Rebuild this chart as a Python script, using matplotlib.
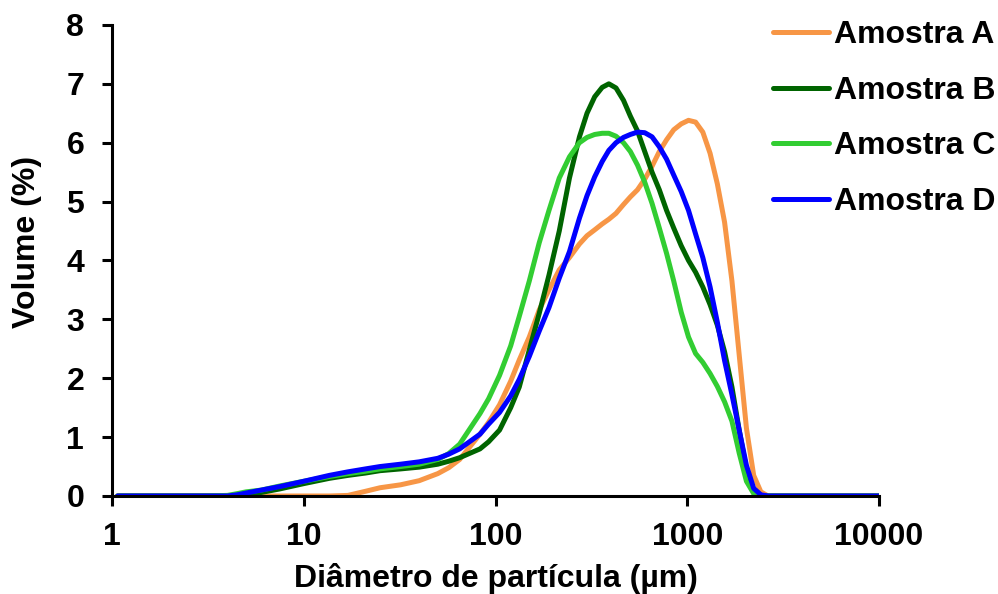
import matplotlib
matplotlib.use("Agg")
import matplotlib.pyplot as plt
from matplotlib.ticker import FixedLocator, FixedFormatter, NullLocator

# particle size (um) and volume (%)
diameter = [1.07, 2, 3, 4, 4.5, 5, 6, 7.5, 10, 13.6,
            17, 21, 25, 32, 40, 50, 57, 65, 83, 92,
            105, 120, 133, 150, 169, 190, 215, 243, 274, 300,
            329, 360, 390, 425, 465, 505, 550, 600, 655, 715,
            780, 850, 930, 1015, 1105, 1205, 1315, 1435, 1565, 1710,
            1865, 2035, 2220, 2420, 2640, 3000, 5000, 10000]

amostra_a = [0, 0, 0, 0, 0, 0, 0, 0, 0, 0,
             0.01, 0.08, 0.14, 0.19, 0.26, 0.38, 0.48, 0.62, 1.05, 1.25,
             1.55, 1.95, 2.31, 2.7, 3.16, 3.5, 3.84, 4.05, 4.28, 4.42,
             4.52, 4.62, 4.70, 4.80, 4.95, 5.08, 5.2, 5.38, 5.6, 5.85,
             6.05, 6.22, 6.32, 6.38, 6.35, 6.18, 5.82, 5.3, 4.65, 3.65,
             2.4, 1.15, 0.35, 0.07, 0, 0, 0, 0]

amostra_b = [0, 0, 0, 0, 0, 0.02, 0.06, 0.12, 0.21, 0.30,
             0.35, 0.39, 0.43, 0.46, 0.49, 0.54, 0.59, 0.65, 0.80, 0.92,
             1.12, 1.5, 1.85, 2.48, 3.1, 3.75, 4.5, 5.4, 6.1, 6.5,
             6.78, 6.94, 7.0, 6.93, 6.72, 6.45, 6.2, 5.85, 5.5, 5.2,
             4.85, 4.55, 4.25, 4.0, 3.8, 3.55, 3.25, 2.9, 2.45, 1.85,
             1.12, 0.45, 0.1, 0.01, 0, 0, 0, 0]

amostra_c = [0, 0, 0, 0.01, 0.04, 0.07, 0.10, 0.17, 0.25, 0.33,
             0.38, 0.42, 0.46, 0.50, 0.54, 0.62, 0.72, 0.88, 1.4, 1.65,
             2.05, 2.55, 3.05, 3.65, 4.3, 4.85, 5.4, 5.76, 6.0, 6.09,
             6.14, 6.16, 6.16, 6.11, 6.0, 5.85, 5.62, 5.33, 4.97, 4.55,
             4.12, 3.65, 3.12, 2.7, 2.42, 2.27, 2.08, 1.86, 1.6, 1.27,
             0.73, 0.25, 0.04, 0, 0, 0, 0, 0]

amostra_d = [0, 0, 0, 0, 0.02, 0.05, 0.10, 0.16, 0.25, 0.35,
             0.41, 0.46, 0.50, 0.54, 0.58, 0.64, 0.71, 0.80, 1.05, 1.22,
             1.42, 1.70, 1.98, 2.37, 2.8, 3.2, 3.7, 4.15, 4.72, 5.1,
             5.42, 5.68, 5.87, 6.0, 6.09, 6.14, 6.18, 6.17, 6.1, 5.93,
             5.72, 5.45, 5.17, 4.85, 4.45, 4.05, 3.55, 2.95, 2.3, 1.72,
             1.12, 0.52, 0.13, 0.02, 0, 0, 0, 0]

labels = ["Amostra A", "Amostra B", "Amostra C", "Amostra D"]
colors = ["#F79646", "#006400", "#32CD32", "#0000FF"]
x_ticks = [1, 10, 100, 1000, 10000]

plt.rcParams["font.family"] = ["Liberation Sans", "DejaVu Sans"]
plt.rcParams["font.weight"] = "bold"
FS = 23

fig = plt.figure(figsize=(9.98, 5.94), dpi=100)
ax = fig.add_axes([0.1122, 0.165, 0.7686, 0.793])

for ys, lab, col in zip([amostra_a, amostra_b, amostra_c, amostra_d], labels, colors):
    ax.plot(diameter, ys, color=col, lw=3.6, label=lab,
            solid_capstyle="round", solid_joinstyle="round")

ax.set_xscale("log")
ax.set_xlim(1, 10000)
ax.set_ylim(0, 8)
ax.xaxis.set_major_locator(FixedLocator(x_ticks))
ax.xaxis.set_major_formatter(FixedFormatter([str(t) for t in x_ticks]))
ax.xaxis.set_minor_locator(NullLocator())
ax.set_yticks(range(0, 9))

for s in ["top", "right"]:
    ax.spines[s].set_visible(False)
for s in ["left", "bottom"]:
    ax.spines[s].set_linewidth(2.2)
ax.tick_params(axis="both", direction="out", length=7, width=2.2, labelsize=FS)
ax.tick_params(axis="x", pad=12)
ax.tick_params(axis="y", pad=13)
for t in ax.get_xticklabels() + ax.get_yticklabels():
    t.set_fontweight("bold")

ax.set_xlabel("Diâmetro de partícula (µm)", fontsize=FS, fontweight="bold", labelpad=8)
ax.set_ylabel("Volume (%)", fontsize=FS, fontweight="bold")
ax.yaxis.set_label_coords(-0.091, 0.54)

fig.legend(loc="upper right", bbox_to_anchor=(0.997, 0.966), frameon=False,
           prop={"size": FS, "weight": "bold"}, handlelength=1.75,
           handletextpad=0.15, labelspacing=0.8, borderpad=0.0,
           borderaxespad=0.0)

fig.savefig("out.png", dpi=100)
